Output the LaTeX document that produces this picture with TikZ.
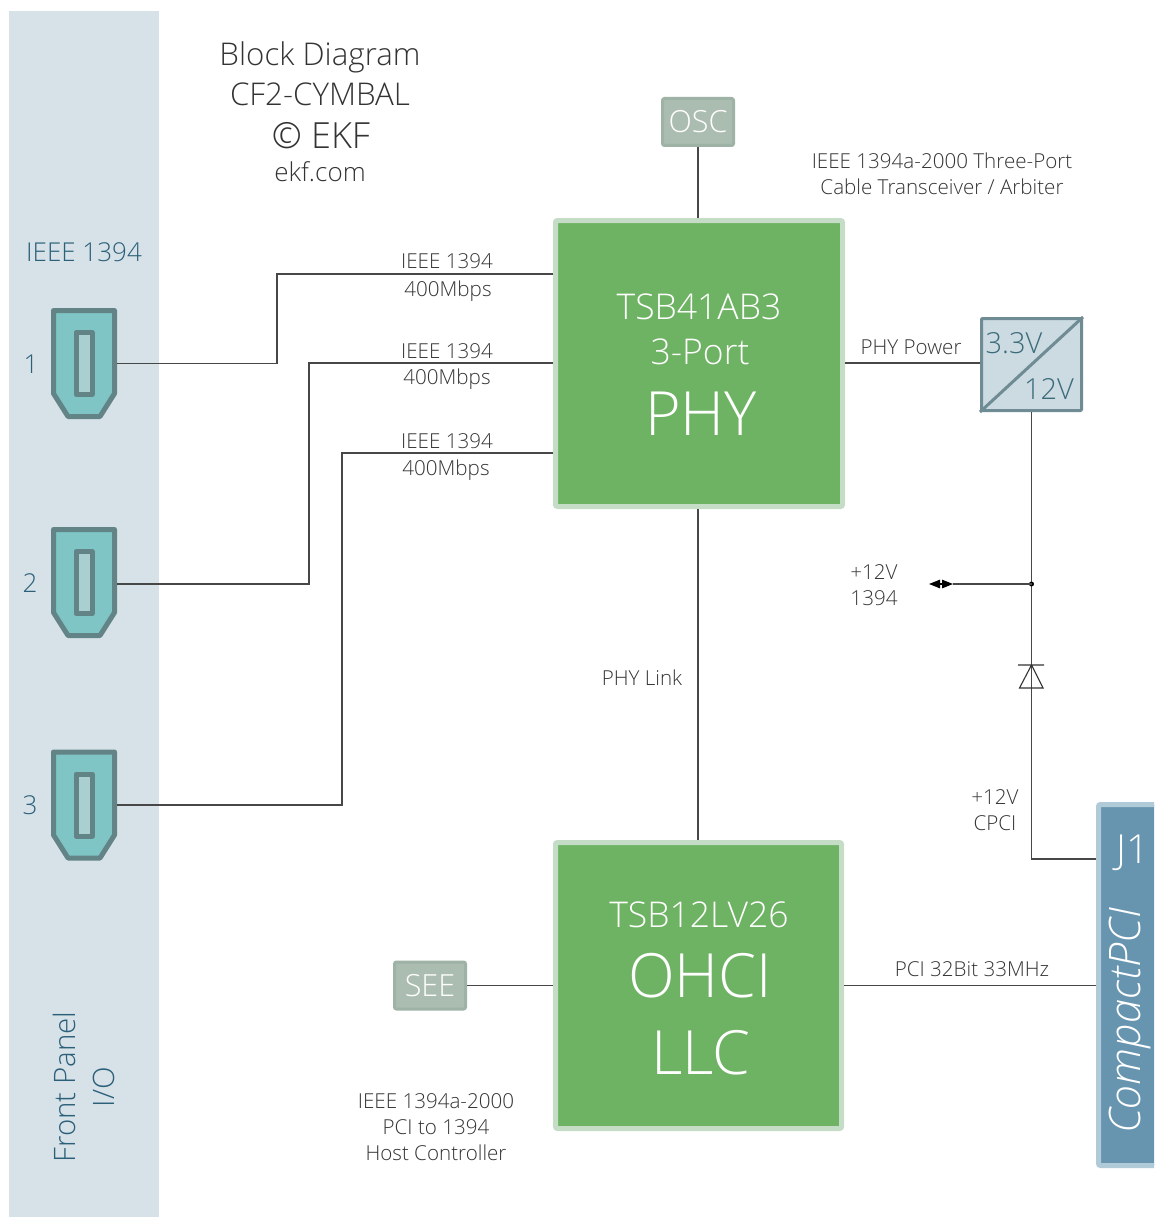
\documentclass[tikz,border=0pt]{standalone}
\usepackage{fontspec}
\setmainfont{Open Sans}
\newfontfamily\lightfont{Open Sans Light}
\usetikzlibrary{arrows.meta, positioning, calc}
\definecolor{panelblue}{HTML}{D6E2E7}
\definecolor{labelblue}{HTML}{2B5F7A}
\definecolor{convtext}{HTML}{3B6B7A}
\definecolor{jackfill}{HTML}{7FC5C5}
\definecolor{jackslot}{HTML}{A9CFD0}
\definecolor{jackline}{HTML}{638486}
\definecolor{chipfill}{HTML}{6EB263}
\definecolor{chipline}{HTML}{C5DCC7}
\definecolor{smallfill}{HTML}{ABBCB0}
\definecolor{smallline}{HTML}{9FB2A6}
\definecolor{convfill}{HTML}{CCDAE1}
\definecolor{convline}{HTML}{6F8B93}
\definecolor{busfill}{HTML}{6795B0}
\definecolor{busline}{HTML}{B0CAD8}
\definecolor{inktext}{HTML}{333333}
\definecolor{wireink}{HTML}{474747}

\begin{document}
\begin{tikzpicture}[
    x=1pt, y=-1pt,
    % Styles
    panel/.style={rectangle, fill=panelblue, minimum width=150pt, minimum height=1206pt, inner sep=0pt},
    chip/.style={rectangle, rounded corners=2pt, draw=chipline, fill=chipfill, line width=5pt, minimum width=287pt, minimum height=286pt, inner sep=0pt},
    smallbox/.style={rectangle, rounded corners=2pt, draw=smallline, fill=smallfill, line width=3pt, minimum width=71pt, minimum height=47pt, inner sep=0pt, text=white, font=\lightfont\fontsize{30.5}{30.5}\selectfont},
    converter/.style={rectangle, rounded corners=1pt, draw=convline, fill=convfill, line width=3pt, minimum width=100pt, minimum height=92pt, inner sep=0pt},
    bus/.style={rectangle, rounded corners=2pt, draw=busline, fill=busfill, line width=5pt, minimum width=90pt, minimum height=361pt, inner sep=0pt},
    wire/.style={draw=wireink, line width=1.1pt},
    tiparrow/.style={line width=1.1pt, -{Triangle[length=11pt,width=8.5pt,color=black,fill=black]}},
    chiptext/.style={text=white, inner sep=0pt, font=\lightfont\fontsize{35.5}{35.5}\selectfont},
    bigtext/.style={chiptext, font=\lightfont\fontsize{61}{61}\selectfont},
    caption/.style={text=inktext, inner sep=0pt, align=center, font=\lightfont\fontsize{20.6}{26}\selectfont},
    paneltext/.style={text=labelblue, inner sep=0pt, align=center, font=\lightfont\fontsize{26}{39}\selectfont},
    voltage/.style={text=convtext, inner sep=0pt, font=\lightfont\fontsize{29}{29}\selectfont},
    titletext/.style={text=inktext, inner sep=0pt, font=\lightfont\fontsize{31.3}{31.3}\selectfont},
    jack/.pic={
        \draw[draw=jackline, fill=jackfill, line width=5pt, line join=round]
            (-30.5,-53) -- (30.5,-53) -- (30.5,30) -- (16,53) -- (-16,53) -- (-30.5,30) -- cycle;
        \draw[draw=jackline, fill=jackslot, line width=5pt, line join=round]
            (-8,-31) rectangle (8,31);
        \coordinate (-port) at (33,0);
    }
]
    \clip (0,0) rectangle (1154,1217);

    % Front panel
    \node[panel] (frontpanel) at (84,614) {};
    \node[paneltext] (frontlabel) at (84,252) {IEEE 1394};
    \node[paneltext, rotate=90, font=\lightfont\fontsize{29.5}{39}\selectfont] (iolabel) at (84,1087) {Front Panel\\I/O};

    % Connectors
    \pic (jackA) at (84,363.5) {jack};
    \pic (jackB) at (84,582.5) {jack};
    \pic (jackC) at (84,805) {jack};
    \node[paneltext] (numA) at (31,364) {1};
    \node[paneltext] (numB) at (30,583) {2};
    \node[paneltext] (numC) at (30,805) {3};

    % Title
    \node[titletext] (title) at (320,57.5) {Block Diagram};
    \node[titletext] (board) at (320,94) {CF2-CYMBAL};
    \node[titletext, font=\lightfont\fontsize{36}{36}\selectfont] (copyr) at (321,136) {© EKF};
    \node[titletext, font=\lightfont\fontsize{26}{26}\selectfont] (web) at (320,172) {ekf.com};

    % Chips
    \node[chip] (phy) at (699,363.5) {};
    \node[chip, below=331pt of phy, minimum width=286pt, xshift=-0.5pt] (ohci) {};
    \node[chiptext] at (699,307) {TSB41AB3};
    \node[chiptext] at (700,352) {3-Port};
    \node[bigtext] at (701,414) {PHY};
    \node[chiptext] at (699,915) {TSB12LV26};
    \node[bigtext] at (700,976) {OHCI};
    \node[bigtext] at (701,1053) {LLC};

    % Small parts
    \node[smallbox, above=71pt of phy, xshift=-1pt] (osc) {OSC};
    \node[smallbox, left=86pt of ohci] (see) {SEE};
    \node[converter, right=135pt of phy, yshift=-1pt] (conv) {};
    \draw[convline, line width=3pt] (conv.south west) -- (conv.north east);
    \node[voltage] (inV) at (1014,343) {3.3V};
    \node[voltage] (outV) at (1049,389) {12V};

    % CompactPCI
    \node[bus] (cpci) at (1143.5,985) {};
    \node[text=white, inner sep=0pt, font=\lightfont\fontsize{40}{40}\selectfont] (jone) at (1133,853) {J1};
    \node[text=white, inner sep=0pt, rotate=90, font=\lightfont\itshape\fontsize{43.4}{43.4}\selectfont] (cpcilabel) at (1130,1021) {CompactPCI};

    % Wires
    \coordinate (portB) at ($(jackB-port)+(0,1.5)$);
    \coordinate (phyA) at (phy.west |- 0,274);
    \coordinate (phyB) at (phy.west |- 0,363);
    \coordinate (phyC) at (phy.west |- 0,453);
    \draw[wire] (jackA-port) -| (277,274) -- (phyA);
    \draw[wire] (portB) -| (309,363) -- (phyB);
    \draw[wire] (jackC-port) -| (342,453) -- (phyC);
    \draw[wire] (osc.south) -- (osc.south |- phy.north);
    \coordinate (phyLow) at (osc.south |- phy.south);
    \coordinate (ohciTop) at (osc.south |- ohci.north);
    \draw[wire] (phyLow) -- (ohciTop);
    \draw[wire] (see.east) -- (ohci.west);
    \coordinate (phyPower) at (phy.east |- 0,363);
    \coordinate (convPower) at (conv.west |- 0,363);
    \draw[wire] (phyPower) -- (convPower);
    \coordinate (cpciPower) at (cpci.west |- 0,859);
    \draw[wire] (conv.south) |- (cpciPower);
    \coordinate (pciOut) at (cpci.west |- ohci.east);
    \draw[wire] (ohci.east) -- (pciOut);

    % Branch to the 1394 supply
    \coordinate (branch) at (conv.south |- 0,584);
    \coordinate (tipMid) at (941,584);
    \coordinate (tipLeft) at (929,584);
    \coordinate (tipRight) at (953,584);
    \fill[black] (branch) circle (2.5pt);
    \draw[wire] (branch) -- (tipRight);
    \draw[tiparrow] (tipMid) -- (tipLeft);
    \draw[tiparrow] (tipMid) -- (tipRight);

    % Diode
    \draw[inktext, line width=1.1pt] (1018,665) -- (1044,665) (1031.5,665) -- (1019.5,688) -- (1043,688) -- cycle;

    % Labels
    \node[caption] at (447,261) {IEEE 1394};
    \node[caption] at (448,291) {400Mbps};
    \node[caption] at (447,351) {IEEE 1394};
    \node[caption] at (447,379) {400Mbps};
    \node[caption] at (447,441) {IEEE 1394};
    \node[caption] at (446,470) {400Mbps};
    \node[caption] at (942,174) {IEEE 1394a-2000 Three-Port\\Cable Transceiver / Arbiter};
    \node[caption] at (911,347) {PHY Power};
    \node[caption] at (874,585.5) {+12V\\1394};
    \node[caption] at (642,678) {PHY Link};
    \node[caption] at (995,810.5) {+12V\\CPCI};
    \node[caption] at (972,969) {PCI 32Bit 33MHz};
    \node[caption] at (436,1127) {IEEE 1394a-2000\\PCI to 1394\\Host Controller};
\end{tikzpicture}
\end{document}
